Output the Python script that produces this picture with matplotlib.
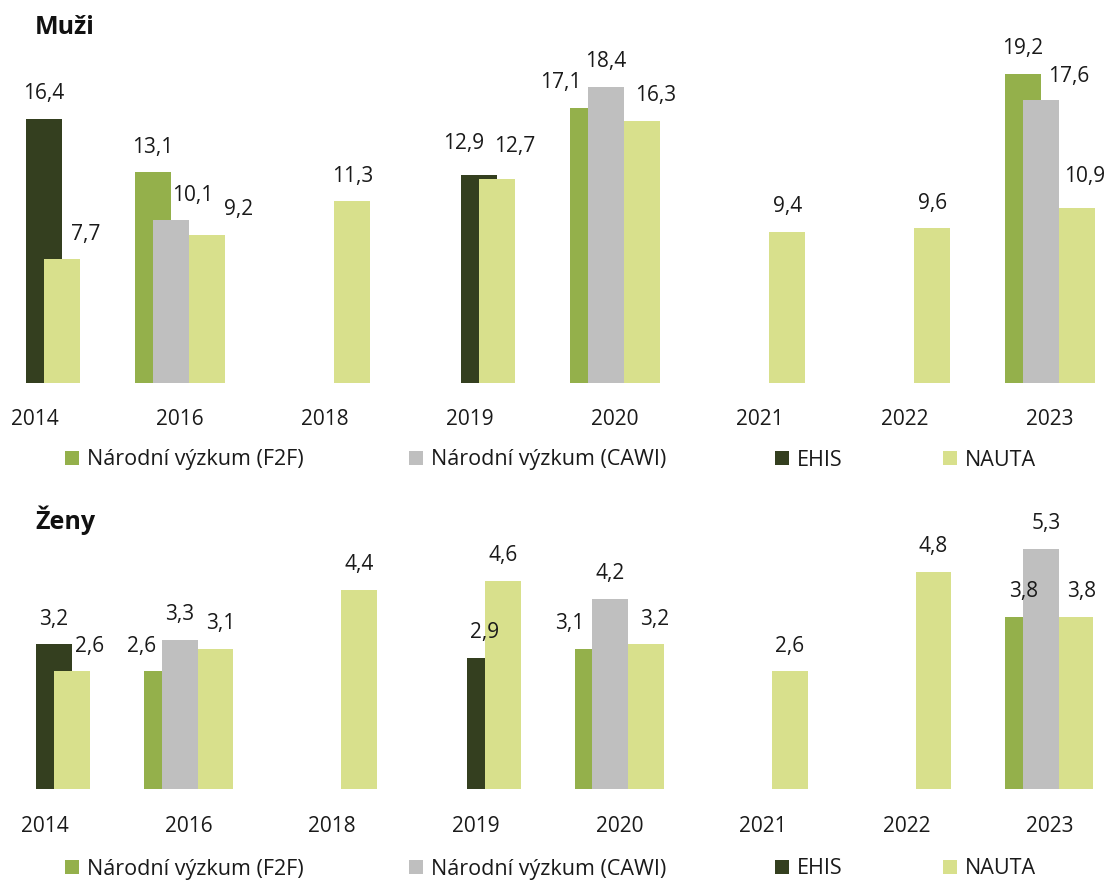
import numpy as np
import matplotlib
matplotlib.use("Agg")
import matplotlib.pyplot as plt
from matplotlib.patches import Patch

plt.rcParams["font.family"] = ["Open Sans", "DejaVu Sans"]

years = ["2014", "2016", "2018", "2019", "2020", "2021", "2022", "2023"]
series_names = ["Národní výzkum (F2F)", "Národní výzkum (CAWI)", "EHIS", "NAUTA"]
colors = ["#94B04B", "#BFBFBF", "#343F1F", "#D8E08C"]

nan = np.nan
# Muži
men_f2f = [nan, 13.1, nan, nan, 17.1, nan, nan, 19.2]
men_cawi = [nan, 10.1, nan, nan, 18.4, nan, nan, 17.6]
men_ehis = [16.4, nan, nan, 12.9, nan, nan, nan, nan]
men_nauta = [7.7, 9.2, 11.3, 12.7, 16.3, 9.4, 9.6, 10.9]
# Ženy
women_f2f = [nan, 2.6, nan, nan, 3.1, nan, nan, 3.8]
women_cawi = [nan, 3.3, nan, nan, 4.2, nan, nan, 5.3]
women_ehis = [3.2, nan, nan, 2.9, nan, nan, nan, nan]
women_nauta = [2.6, 3.1, 4.4, 4.6, 3.2, 2.6, 4.8, 3.8]

# manual label nudges (pixels): (year index, series index) -> (dx, dy)
men_label_shift = {
    (0, 3): (23, 0), (1, 1): (22, 0), (1, 3): (31, 0),
    (3, 2): (-15, 7), (3, 3): (17, 7), (4, 0): (-27, 0), (4, 3): (13, 0),
    (7, 1): (28, -2), (7, 3): (7, 6),
}
women_label_shift = {
    (0, 3): (18, 0), (1, 0): (-20, 0), (1, 3): (5, 0),
    (4, 0): (-23, 0), (4, 3): (8, 0), (7, 1): (5, 0), (7, 3): (4, 0),
}

W, H = 1106, 881
fig = plt.figure(figsize=(W / 100, H / 100), dpi=100)

bar_w = 0.25
step = bar_w / 2
offsets = [-1.5 * step, -0.5 * step, 0.5 * step, 1.5 * step]
PT = 0.72  # px -> pt at dpi 100
legend_xs = [65, 409, 775, 943]


def panel(rect, xlim, ylim, data, shifts, tick_pad_px, legend_y):
    ax = fig.add_axes(rect)
    x = np.arange(len(years))
    for s, vals in enumerate(data):
        vals = np.array(vals, dtype=float)
        ok = ~np.isnan(vals)
        ax.bar(x[ok] + offsets[s], vals[ok], width=bar_w, color=colors[s],
               edgecolor="none", zorder=2 + s)
        for i in np.where(ok)[0]:
            dx, dy = shifts.get((i, s), (0, 0))
            ax.annotate(f"{vals[i]:.1f}".replace(".", ","),
                        xy=(x[i] + offsets[s], vals[i]),
                        xytext=(dx * PT, (25 + dy) * PT), textcoords="offset points",
                        ha="center", va="center", fontsize=15, color="#1a1a1a",
                        zorder=10)
    ax.set_xlim(*xlim)
    ax.set_ylim(*ylim)
    ax.set_xticks(x)
    ax.set_xticklabels(years)
    ax.tick_params(axis="x", length=0, pad=tick_pad_px * PT, labelsize=15,
                   labelcolor="#1a1a1a")
    ax.set_yticks([])
    for sp in ax.spines.values():
        sp.set_visible(False)
    ax.patch.set_alpha(0)

    for s in range(4):
        fig.legend(handles=[Patch(facecolor=colors[s], edgecolor="none")],
                   labels=[series_names[s]], loc="center left",
                   bbox_to_anchor=(legend_xs[s] / W, 1 - legend_y / H),
                   frameon=False, fontsize=15.5, handlelength=0.63, handleheight=0.63,
                   handletextpad=0.37, borderpad=0, borderaxespad=0,
                   labelcolor="#1a1a1a")
    return ax


# top panel: baseline at 383 px, 16.1 px per unit, categories at 35 + 145*i
top_ylim = 21
panel([6 / W, 1 - 383 / H, (1100.75 - 6) / W, top_ylim * 16.1 / H],
      (-0.2, 7.35), (0, top_ylim),
      [men_f2f, men_cawi, men_ehis, men_nauta], men_label_shift, 26, 460)
fig.text(35 / W, 1 - 28 / H, "Muži", fontsize=18, fontweight="bold", va="center",
         ha="left", color="#111111")

# bottom panel: baseline at 789 px, 45.3 px per unit, categories at 45 + 143.6*i
bot_ylim = 6
panel([9.1 / W, 1 - 789 / H, (1093.3 - 9.1) / W, bot_ylim * 45.3 / H],
      (-0.25, 7.3), (0, bot_ylim),
      [women_f2f, women_cawi, women_ehis, women_nauta], women_label_shift, 27, 869)
fig.text(35 / W, 1 - 520 / H, "Ženy", fontsize=18, fontweight="bold", va="center",
         ha="left", color="#111111")

fig.savefig("out.png", dpi=100)
